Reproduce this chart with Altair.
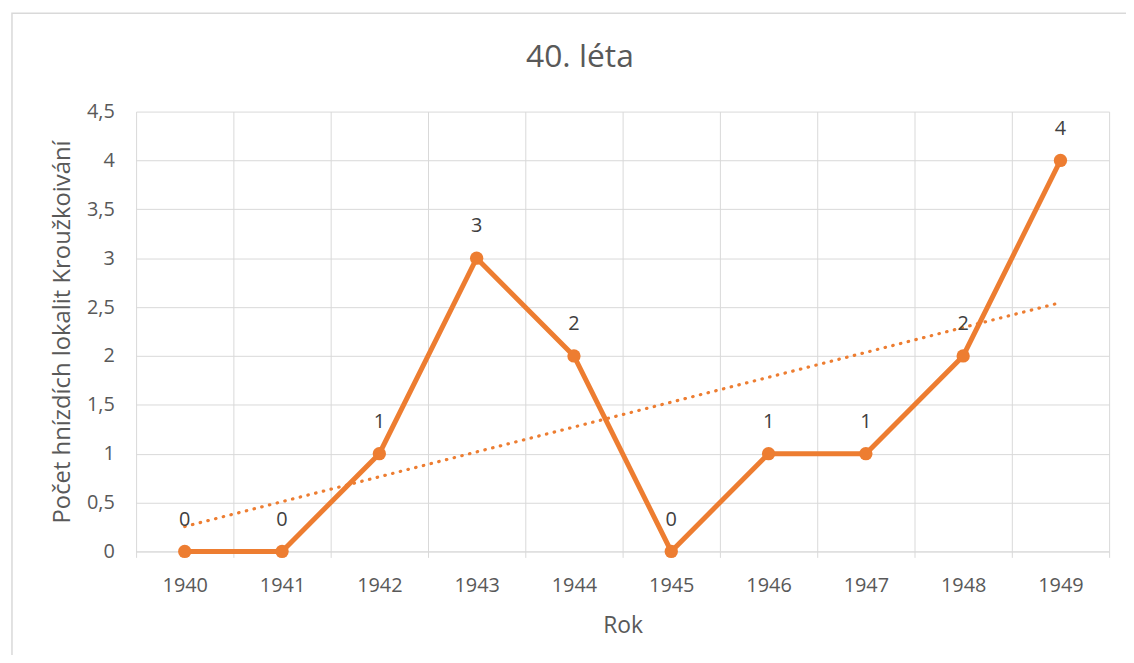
import altair as alt
import pandas as pd

years = [1940, 1941, 1942, 1943, 1944, 1945, 1946, 1947, 1948, 1949]
counts = [0, 0, 1, 3, 2, 0, 1, 1, 2, 4]

df = pd.DataFrame({"Rok": years, "Pocet": counts})

ORANGE = "#ED7D31"
GRID = "#D9D9D9"
TXT = "#595959"
FONT = "Open Sans"

xenc = alt.X(
    "Rok:O",
    scale=alt.Scale(domain=years, paddingInner=0, paddingOuter=0),
    axis=alt.Axis(
        title="Rok",
        labelAngle=0,
        tickBand="extent",
        grid=True,
        gridColor=GRID,
        ticks=True,
        tickColor=GRID,
        tickSize=6,
        domainColor=GRID,
        labelPadding=18,
        titlePadding=20,
        titleFontSize=23,
    ),
)
yenc = alt.Y(
    "Pocet:Q",
    scale=alt.Scale(domain=[0, 4.5], nice=False),
    axis=alt.Axis(
        title="Počet hnízdích lokalit Kroužkoivání",
        values=[0, 0.5, 1, 1.5, 2, 2.5, 3, 3.5, 4, 4.5],
        labelExpr="replace(format(datum.value, '.1~f'), '.', ',')",
        domain=False,
        ticks=False,
        grid=True,
        gridColor=GRID,
        labelPadding=22,
        titlePadding=12,
        titleFontSize=24,
    ),
)

base = alt.Chart(df)

frame = alt.Chart(alt.Data(values=[{"k": 0}])).mark_rect(
    filled=False, stroke=GRID, strokeWidth=1.5
).encode(
    x=alt.value(-125), y=alt.value(-99), x2=alt.value(1300), y2=alt.value(800)
)

trend = base.transform_regression("Rok", "Pocet").mark_line(
    color=ORANGE, strokeWidth=3.2, strokeDash=[0.5, 7.5], strokeCap="round"
).encode(x=xenc, y=yenc)

line = base.mark_line(color=ORANGE, strokeWidth=5).encode(x=xenc, y=yenc)
pts = base.mark_circle(color=ORANGE, size=180, opacity=1).encode(x=xenc, y=yenc)
labels = base.mark_text(dy=-32, fontSize=20, color="#404040", font=FONT).encode(
    x=xenc, y=yenc, text="Pocet:Q"
)

chart = (
    alt.layer(frame, trend, line, pts, labels)
    .properties(
        width=980,
        height=443,
        title=alt.Title("40. léta", dx=-43, offset=0, dy=62),
        autosize=alt.AutoSizeParams(type="none"),
        padding={"left": 129, "top": 102, "right": 17, "bottom": 102},
    )
    .configure_view(strokeWidth=0)
    .configure_axis(
        labelFont=FONT,
        titleFont=FONT,
        labelFontSize=20,
        labelColor=TXT,
        titleColor=TXT,
        titleFontWeight="normal",
    )
    .configure_title(font=FONT, fontSize=32, color=TXT, fontWeight="normal", anchor="middle")
)

chart.save("out.html", embed_options={"renderer": "svg", "actions": False})
